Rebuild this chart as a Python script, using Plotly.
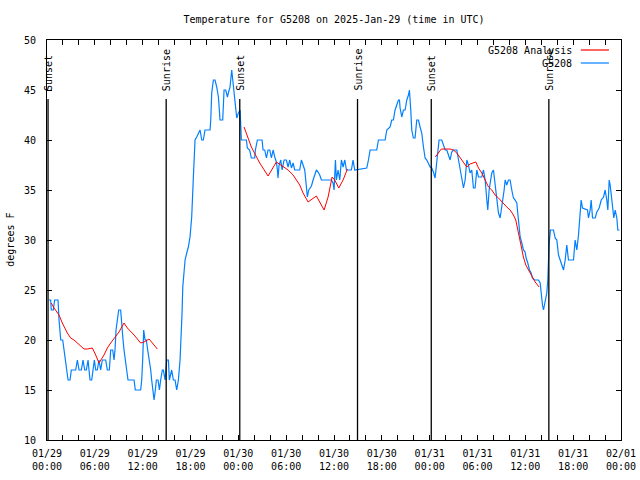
import pandas as pd
import plotly.graph_objects as go

BASE = pd.Timestamp("2025-01-29 00:00")

# Observed temperature (hours after 01/29 00:00 UTC, degrees F)
obs_hours = [0.21, 0.46, 0.54, 0.79, 0.96, 1.38, 1.51, 1.72, 1.97, 2.13, 2.34, 2.47, 2.64, 2.89, 3.05, 3.60, 3.81, 4.02, 4.31, 4.52,
             4.73, 4.94, 5.15, 5.27, 5.40, 5.61, 5.77, 5.94, 6.11, 6.31, 6.52, 6.73, 6.94, 7.36, 7.57, 7.82, 7.99, 8.24, 8.41, 8.53,
             8.66, 8.78, 8.99, 9.24, 9.37, 9.54, 9.66, 9.83, 10.00, 10.16, 10.92, 11.08, 11.75, 11.88, 12.00, 12.13, 12.30, 12.46, 12.63, 12.84,
             13.01, 13.13, 13.26, 13.43, 13.59, 13.72, 13.93, 14.10, 14.26, 14.47, 14.60, 14.81, 15.02, 15.23, 15.35, 15.64, 15.85, 16.06, 16.27, 16.48,
             16.69, 16.81, 16.94, 17.03, 17.19, 17.32, 17.53, 17.73, 17.94, 18.15, 18.36, 18.57, 18.78, 19.20, 19.41, 19.61, 19.82, 20.45, 20.54, 20.66,
             20.87, 21.08, 21.29, 21.50, 21.62, 21.70, 22.04, 22.21, 22.42, 22.63, 22.75, 22.96, 23.17, 23.30, 23.46, 23.63, 23.80, 24.01, 24.22, 24.38,
             25.01, 25.13, 25.42, 25.63, 26.05, 26.14, 26.39, 26.98, 27.10, 27.31, 27.52, 27.73, 27.94, 28.15, 28.36, 28.57, 28.77, 28.90, 28.98, 29.11,
             29.32, 29.49, 29.74, 30.03, 30.24, 30.45, 30.66, 30.87, 31.07, 31.70, 31.91, 32.12, 32.33, 32.54, 32.66, 32.83, 33.17, 33.38, 33.58, 33.79,
             34.00, 34.21, 34.42, 35.67, 35.88, 36.01, 36.18, 36.30, 36.51, 36.72, 36.93, 37.14, 37.35, 37.56, 38.18, 38.39, 38.60, 40.11, 40.32, 40.53,
             41.36, 41.57, 42.41, 42.62, 43.04, 43.24, 43.45, 43.66, 43.87, 44.08, 44.21, 44.29, 44.50, 44.71, 44.92, 45.13, 45.34, 45.46, 45.63, 45.75,
             45.96, 46.17, 46.38, 46.59, 46.80, 47.01, 47.22, 47.43, 47.64, 47.85, 48.06, 48.26, 48.47, 48.68, 48.81, 49.02, 49.18, 49.52, 49.73, 49.94,
             50.15, 50.36, 50.56, 50.77, 50.98, 51.40, 51.61, 51.82, 52.03, 52.24, 52.45, 52.66, 52.86, 53.07, 53.28, 53.49, 53.70, 53.91, 54.12, 54.54,
             54.75, 54.96, 55.17, 55.29, 55.46, 55.58, 55.79, 56.00, 56.13, 56.29, 56.46, 56.63, 56.84, 56.96, 57.13, 57.34, 57.47, 57.67, 57.88, 58.09,
             58.30, 58.51, 58.72, 58.93, 59.05, 59.18, 59.35, 59.56, 59.76, 59.97, 60.10, 60.31, 60.52, 60.73, 60.89, 61.14, 61.65, 61.86, 61.98, 62.15,
             62.28, 62.48, 62.69, 62.82, 62.99, 63.15, 63.53, 63.74, 63.95, 64.16, 64.37, 64.58, 64.79, 65.00, 65.20, 65.41, 66.04, 66.25, 66.46, 66.67,
             66.79, 67.00, 67.17, 67.80, 67.92, 68.13, 68.26, 68.43, 68.76, 68.97, 69.26, 69.52, 69.81, 70.01, 70.22, 70.35, 70.52, 70.64, 70.85, 70.97,
             71.10, 71.27, 71.48, 71.60, 71.81]
obs_temp = [24, 24, 23, 23, 24, 24, 22, 20, 20, 19, 18, 17, 16, 16, 17, 17, 18, 17, 17, 18,
            17, 17, 18, 17, 16, 16, 17, 18, 17, 17, 18, 17, 18, 18, 17, 17, 19, 19, 18, 19,
            21, 22, 23, 23, 22, 20, 19, 18, 17, 16, 16, 15, 15, 16, 18, 21, 20, 20, 19, 18,
            17, 16, 15, 14, 15, 16, 16, 15, 16, 17, 17, 16, 18, 18, 16, 17, 16, 16, 15, 16,
            18, 19.7, 22.7, 25.3, 27.3, 28, 28.7, 29.3, 30.3, 32.3, 36.3, 40, 40.3, 41, 40, 40, 41, 41, 42, 44.7,
            46, 46, 45.3, 44.3, 43, 42, 42, 45, 45, 44.3, 44.7, 45.3, 47, 46, 44.7, 43, 42.2, 42.7, 43, 40,
            40, 39.2, 39, 38.2, 38.2, 39, 40, 40, 39, 39, 38.2, 39, 39, 38.2, 39, 38.3, 37.8, 37, 36.2, 37.5,
            38, 37, 38, 38, 37.3, 38, 37.2, 37.7, 37, 37, 38, 37.5, 37, 35.3, 34.3, 35, 35.4, 36, 36.5, 37,
            36.8, 36.5, 36, 36, 35.7, 35, 38, 36, 37, 36, 38, 37.3, 38, 37, 37, 38, 37, 37.2, 38, 39,
            39, 40, 40, 41, 41.3, 42, 42, 43, 43.5, 44, 44, 43.2, 42.3, 43, 43, 44, 44.5, 45, 43, 41,
            40.2, 40.2, 42, 42, 41.3, 40.7, 39.3, 38.2, 38, 37.7, 37.3, 37.2, 36.8, 36.2, 37.3, 39, 40, 40, 39.5, 39,
            39, 38.5, 38, 38.8, 39, 39, 38, 37.3, 36.2, 35.2, 36, 38, 37.5, 36.7, 37, 35.2, 35.2, 37, 36.3, 36.3,
            37, 36, 34, 33, 35, 35.7, 36.7, 37, 36, 34.7, 34, 32.7, 32.2, 32.8, 33.8, 35, 36, 35.5, 36, 36,
            35, 34.2, 34, 33.7, 32.7, 31.5, 30.3, 29.7, 29, 28.8, 28.2, 27.7, 27, 26.7, 26.2, 26, 26, 25.7, 24.7, 23.5,
            23, 23.7, 24.7, 26, 29.7, 31, 31, 30.2, 30, 28.5, 28, 27.7, 27, 28, 29.5, 28, 28, 30, 29, 30.5,
            31.8, 34, 33.2, 33, 32.2, 33, 34, 32.2, 32.2, 32.8, 33.2, 34, 34.3, 35, 34, 33, 36, 35.5, 34, 33,
            32.2, 33, 32.2, 31, 31]

# Analysis series (three separate runs)
ana1_hours = [0.54, 0.88, 1.51, 1.92, 2.55, 2.97, 3.39, 3.81, 4.64, 5.06, 5.69, 6.11, 6.52, 7.15, 7.57, 7.99, 8.62, 9.03, 9.66, 10.08,
              10.92, 11.75, 12.17, 12.80, 13.22, 13.84]
ana1_temp = [23.7, 23.2, 22.5, 21.7, 20.7, 20.2, 20.0, 19.7, 19.1, 19.1, 19.2, 18.5, 17.7, 18.5, 19.2, 19.7, 20.3, 20.8, 21.7, 21.2,
             20.5, 19.7, 19.8, 20.1, 19.7, 19.1]
ana2_hours = [24.72, 25.63, 26.68, 27.73, 28.77, 29.61, 30.24, 30.87, 31.28, 31.70, 32.12, 32.75, 33.79, 34.76, 35.26, 35.76, 36.09, 36.60,
              37.14, 37.68]
ana2_temp = [41.3, 39.3, 37.7, 36.4, 37.8, 37.3, 37.0, 36.5, 36.0, 35.5, 34.7, 33.8, 34.4, 33.0, 34.3, 36.3, 36.0, 35.2, 36.0, 37.1]
ana3_hours = [48.71, 49.05, 49.46, 50.56, 50.98, 51.40, 51.82, 52.24, 52.66, 53.07, 53.49, 53.79, 54.12, 54.54, 54.96, 55.38, 55.79, 56.21,
              56.63, 57.05, 57.67, 58.09, 58.51, 58.80, 59.05, 59.26, 59.47, 59.76, 60.06, 60.39, 60.81, 61.23, 61.73]
ana3_temp = [38.3, 38.7, 39.1, 39.1, 39.0, 38.7, 38.2, 37.7, 37.3, 37.6, 37.7, 37.8, 37.2, 36.7, 36.0, 35.3, 35.0, 34.5,
             34.2, 33.8, 33.3, 33.0, 32.5, 32.0, 31.0, 30.0, 29.2, 28.3, 27.5, 27.0, 26.3, 25.8, 25.3]

# Sun events (hours after 01/29 00:00 UTC)
sun_hours = [0.13, 14.95, 24.18, 38.95, 48.2, 62.95]
sun_labels = ["Sunset", "Sunrise", "Sunset", "Sunrise", "Sunset", "Sunrise"]

FONT = "DejaVu Sans Mono"


def to_time(hours):
    return [BASE + pd.Timedelta(hours=h) for h in hours]


ana_x, ana_y = [], []
for hs, ts in [(ana1_hours, ana1_temp), (ana2_hours, ana2_temp), (ana3_hours, ana3_temp)]:
    ana_x += to_time(hs) + [None]
    ana_y += ts + [None]

fig = go.Figure()
fig.add_trace(go.Scatter(x=to_time(obs_hours), y=obs_temp, mode="lines",
                         line=dict(color="#0080ff", width=1.2), name="G5208"))
fig.add_trace(go.Scatter(x=ana_x, y=ana_y, mode="lines", connectgaps=False,
                         line=dict(color="#ff0000", width=1), name="G5208 Analysis"))

for t, lab in zip(to_time(sun_hours), sun_labels):
    fig.add_shape(type="line", xref="x", yref="y", x0=t, x1=t, y0=10, y1=44.1,
                  line=dict(color="black", width=1.3))
    fig.add_annotation(x=t, y=44.7, xref="x", yref="y", text=lab, textangle=-90,
                       showarrow=False, xanchor="center", yanchor="bottom",
                       font=dict(family=FONT, size=10, color="black"))

# gnuplot-style legend (text left, sample right)
legend_items = [("G5208 Analysis", "#ff0000", 0.975), ("G5208", "#0080ff", 0.9425)]
for txt, col, yp in legend_items:
    fig.add_annotation(x=0.918, y=yp, xref="paper", yref="paper", text=txt, showarrow=False,
                       xanchor="right", yanchor="middle", font=dict(family=FONT, size=10, color="black"))
    fig.add_shape(type="line", xref="paper", yref="paper", x0=0.930, x1=0.979, y0=yp, y1=yp,
                  line=dict(color=col, width=1.2))

# y-axis title placed as gnuplot does (far left)
fig.add_annotation(x=-0.065, y=0.5, xref="paper", yref="paper", text="degrees F", textangle=-90,
                   showarrow=False, xanchor="center", yanchor="middle",
                   font=dict(family=FONT, size=10, color="black"))

fig.update_layout(
    width=640, height=480,
    margin=dict(l=47, r=19, t=40, b=40, autoexpand=False),
    paper_bgcolor="white", plot_bgcolor="white",
    showlegend=False,
    font=dict(family=FONT, size=10, color="black"),
    title=dict(text="Temperature for G5208 on 2025-Jan-29 (time in UTC)", x=0.522, xanchor="center",
               y=0.96, yanchor="middle", font=dict(family=FONT, size=10, color="black")),
)
fig.update_xaxes(
    type="date", automargin=False,
    range=[BASE, BASE + pd.Timedelta(hours=72)],
    tick0=BASE, dtick=6 * 3600 * 1000, tickformat="%m/%d<br>%H:%M",
    ticks="inside", ticklen=5, tickcolor="black", mirror="allticks",
    showline=True, linecolor="black", linewidth=1, showgrid=False, zeroline=False,
    minor=dict(ticks="inside", ticklen=5, dtick=2 * 3600 * 1000, tickcolor="black", showgrid=False),
    ticklabelstandoff=4,
)
fig.update_yaxes(
    automargin=False,
    range=[10, 50], dtick=5,
    ticks="inside", ticklen=5, tickcolor="black", mirror="allticks",
    showline=True, linecolor="black", linewidth=1, showgrid=False, zeroline=False,
    ticklabelstandoff=8,
)

fig.write_html("out.html", config={"displayModeBar": False},
               post_script="document.body.style.margin='0';document.body.style.overflow='hidden';")
